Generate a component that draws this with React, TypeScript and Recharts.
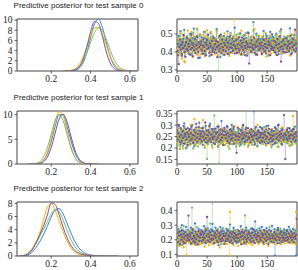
import React from "react";
import { LineChart, Line, XAxis, YAxis, ReferenceArea } from "recharts";

// series colours: chain 0..3
const COLORS = ["#3b7ed6", "#f6b008", "#79ba6a", "#7c4e8e"];
const KEYS = ["blue", "orange", "green", "purple"];

// ---- predictive posterior densities (x grid + one array per chain) ----
const dx0 = [0.26, 0.28, 0.3, 0.32, 0.34, 0.36, 0.38, 0.4, 0.42, 0.44, 0.46, 0.48, 0.5, 0.52, 0.54, 0.56, 0.58, 0.6, 0.62, 0.64];
const dBlue0 = [0, 0.01, 0.02, 0.11, 0.46, 1.45, 3.5, 6.5, 9.27, 10.17, 8.57, 5.55, 2.77, 1.06, 0.33, 0.09, 0.03, 0.01, 0, 0];
const dOrange0 = [0.01, 0.04, 0.14, 0.45, 1.18, 2.56, 4.59, 6.83, 8.41, 8.57, 7.23, 5.05, 2.92, 1.4, 0.55, 0.18, 0.05, 0.02, 0, 0];
const dGreen0 = [0.01, 0.02, 0.08, 0.28, 0.77, 1.79, 3.46, 5.59, 7.54, 8.48, 7.96, 6.23, 4.07, 2.22, 1.01, 0.38, 0.12, 0.04, 0.01, 0];
const dPurple0 = [0.01, 0.02, 0.04, 0.19, 0.72, 2.09, 4.61, 7.69, 9.73, 9.33, 6.79, 3.74, 1.56, 0.5, 0.12, 0.03, 0.01, 0, 0, 0];

const dx1 = [0.08, 0.1, 0.12, 0.14, 0.16, 0.18, 0.2, 0.22, 0.24, 0.26, 0.28, 0.3, 0.32, 0.34, 0.36, 0.38, 0.4, 0.42, 0.44];
const dBlue1 = [0, 0.01, 0.04, 0.19, 0.72, 2.06, 4.53, 7.66, 9.97, 9.97, 7.66, 4.8, 2.3, 0.85, 0.22, 0.05, 0.01, 0, 0];
const dOrange1 = [0, 0.01, 0.04, 0.19, 0.76, 2.29, 5.11, 8.52, 10.6, 9.86, 6.84, 3.54, 1.37, 0.4, 0.09, 0.01, 0, 0, 0];
const dGreen1 = [0.01, 0.03, 0.11, 0.44, 1.35, 3.25, 6.07, 8.83, 10.0, 8.83, 6.07, 3.25, 1.35, 0.44, 0.11, 0.02, 0, 0, 0];
const dPurple1 = [0, 0, 0.02, 0.1, 0.43, 1.37, 3.34, 6.28, 9.08, 10.1, 8.61, 5.65, 2.85, 1.11, 0.33, 0.07, 0.01, 0, 0];

const dx2 = [0.02, 0.04, 0.06, 0.08, 0.1, 0.12, 0.14, 0.16, 0.18, 0.2, 0.22, 0.24, 0.26, 0.28, 0.3, 0.32, 0.34, 0.36, 0.38, 0.4, 0.42, 0.44, 0.46, 0.48, 0.5, 0.52, 0.54];
const dBlue2 = [0, 0, 0.03, 0.15, 0.5, 1.2, 2.1, 3.2, 4.5, 5.9, 7.0, 7.2, 6.4, 5.0, 3.5, 2.2, 1.25, 0.65, 0.32, 0.15, 0.07, 0.03, 0.01, 0, 0, 0, 0];
const dOrange2 = [0, 0, 0.08, 0.35, 1.0, 2.0, 3.4, 5.4, 7.4, 7.95, 6.9, 5.3, 3.7, 2.3, 1.25, 0.65, 0.3, 0.15, 0.08, 0.05, 0.03, 0.02, 0.01, 0, 0, 0, 0];
const dGreen2 = [0, 0.02, 0.1, 0.35, 0.9, 1.8, 2.9, 4.0, 5.2, 6.4, 7.0, 6.7, 5.5, 3.9, 2.5, 1.4, 0.75, 0.4, 0.22, 0.12, 0.08, 0.06, 0.04, 0.02, 0.01, 0, 0];
const dPurple2 = [0, 0, 0.05, 0.25, 0.8, 1.8, 3.1, 4.5, 6.2, 8.05, 7.8, 6.3, 4.4, 2.8, 1.6, 0.85, 0.45, 0.22, 0.12, 0.07, 0.04, 0.02, 0.01, 0, 0, 0, 0];

// ---- traces, 200 draws per chain, in thousandths ----
const t0Blue = [
  462, 405, 441, 489, 397, 431, 516, 452, 378, 445, 471, 419, 523, 436, 401, 458, 484, 412, 447, 392,
  468, 427, 501, 384, 453, 439, 476, 408, 529, 442, 395, 463, 421, 487, 447, 366, 455, 432, 498, 414,
  443, 481, 402, 459, 426, 512, 437, 389, 474, 451, 416, 493, 431, 462, 377, 446, 508, 423, 457, 399,
  485, 434, 411, 467, 448, 393, 526, 429, 456, 418, 481, 440, 371, 497, 435, 463, 404, 452, 488, 421,
  449, 407, 478, 432, 514, 445, 388, 466, 425, 492, 437, 459, 402, 481, 417, 446, 535, 428, 463, 394,
  426, 472, 438, 396, 457, 503, 419, 445, 481, 408, 463, 431, 494, 382, 452, 476, 413, 439, 508, 447,
  411, 466, 429, 482, 398, 454, 437, 566, 419, 472, 446, 385, 501, 433, 458, 409, 487, 441, 424, 469,
  453, 392, 476, 438, 517, 421, 462, 405, 447, 489, 428, 456, 379, 474, 443, 511, 416, 461, 432, 485,
  437, 479, 413, 458, 396, 502, 441, 468, 424, 387, 483, 449, 416, 525, 433, 457, 401, 472, 444, 418,
  474, 426, 455, 399, 488, 437, 412, 463, 531, 429, 447, 394, 476, 452, 418, 495, 436, 461, 405, 448,
];
const t0Orange = [
  418, 456, 381, 472, 427, 395, 503, 441, 364, 459, 412, 487, 349, 342, 433, 468, 401, 447, 519, 425,
  441, 393, 478, 426, 512, 409, 457, 372, 489, 438, 401, 466, 423, 531, 385, 452, 417, 494, 436, 406,
  387, 462, 429, 498, 411, 447, 376, 483, 436, 405, 521, 419, 458, 393, 472, 431, 446, 507, 382, 453,
  476, 418, 452, 389, 467, 434, 512, 403, 449, 378, 491, 427, 461, 408, 439, 484, 396, 457, 421, 503,
  425, 468, 397, 441, 489, 413, 456, 378, 437, 502, 421, 466, 394, 478, 432, 581, 408, 452, 429, 487,
  448, 403, 479, 426, 391, 463, 437, 518, 412, 454, 386, 471, 442, 407, 496, 429, 461, 381, 447, 415,
  467, 423, 452, 398, 487, 436, 409, 475, 441, 527, 395, 458, 427, 469, 384, 446, 413, 491, 437, 402,
  412, 481, 438, 463, 395, 452, 421, 506, 374, 467, 433, 449, 402, 488, 426, 457, 391, 474, 418, 443,
  456, 397, 472, 418, 446, 385, 493, 432, 461, 409, 478, 426, 513, 401, 449, 437, 468, 392, 455, 421,
  438, 474, 405, 451, 427, 489, 413, 446, 379, 462, 431, 497, 419, 456, 403, 471, 436, 517, 398, 444,
];
const t0Green = [
  437, 482, 401, 458, 426, 513, 447, 389, 469, 432, 496, 414, 453, 378, 474, 441, 405, 487, 428, 461,
  452, 417, 495, 433, 471, 392, 458, 506, 421, 446, 483, 408, 467, 436, 524, 399, 455, 428, 489, 442,
  413, 468, 441, 397, 479, 452, 426, 511, 384, 463, 437, 492, 418, 457, 446, 403, 481, 431, 469, 425,
  488, 436, 459, 409, 475, 442, 521, 418, 454, 296, 431, 477, 402, 463, 491, 427, 448, 383, 472, 439,
  461, 404, 447, 483, 426, 458, 393, 476, 439, 506, 421, 462, 437, 415, 488, 451, 408, 473, 429, 497,
  426, 473, 438, 501, 417, 456, 443, 382, 468, 429, 487, 411, 459, 434, 478, 506, 421, 449, 392, 464,
  447, 412, 481, 436, 463, 397, 452, 519, 428, 471, 443, 406, 492, 438, 457, 416, 476, 431, 463, 447,
  403, 462, 429, 487, 446, 418, 471, 437, 499, 412, 458, 441, 383, 466, 427, 484, 451, 409, 476, 438,
  469, 433, 456, 411, 492, 447, 423, 478, 401, 462, 436, 513, 427, 451, 389, 473, 442, 418, 485, 456,
  428, 481, 442, 467, 415, 454, 398, 486, 437, 461, 409, 474, 446, 421, 493, 438, 457, 403, 468, 432,
];
const t0Purple = [
  403, 446, 381, 332, 427, 468, 412, 439, 387, 456, 421, 493, 398, 434, 372, 451, 417, 476, 408, 443,
  429, 386, 462, 414, 497, 423, 376, 448, 431, 409, 471, 392, 437, 418, 482, 401, 453, 426, 367, 441,
  458, 411, 436, 389, 473, 427, 404, 452, 381, 438, 466, 417, 497, 423, 396, 447, 432, 384, 461, 409,
  421, 478, 398, 442, 413, 462, 427, 371, 456, 434, 403, 489, 418, 445, 392, 469, 426, 411, 452, 384,
  437, 402, 466, 424, 389, 451, 413, 484, 428, 397, 446, 421, 474, 406, 438, 459, 391, 432, 417, 468,
  396, 443, 418, 481, 407, 436, 462, 389, 427, 451, 413, 472, 398, 434, 421, 457, 379, 446, 428, 505,
  335, 427, 448, 401, 466, 423, 437, 412, 479, 394, 441, 426, 458, 385, 431, 469, 409, 447, 418, 436,
  452, 387, 431, 416, 468, 403, 443, 426, 392, 475, 421, 438, 459, 404, 447, 382, 433, 416, 498, 422,
  409, 461, 424, 398, 452, 436, 382, 471, 418, 443, 405, 487, 427, 346, 456, 431, 414, 465, 399, 438,
  441, 397, 476, 419, 432, 458, 406, 444, 421, 491, 387, 453, 428, 469, 411, 437, 524, 402, 446, 418,
];

const t1Blue = [
  271, 229, 258, 296, 237, 264, 215, 283, 246, 221, 276, 252, 308, 234, 261, 199, 268, 243, 287, 226,
  249, 283, 218, 262, 239, 301, 227, 256, 273, 208, 265, 241, 289, 223, 254, 276, 232, 311, 244, 261,
  236, 274, 252, 213, 289, 245, 268, 226, 297, 241, 259, 219, 278, 249, 235, 306, 228, 263, 242, 281,
  258, 221, 284, 247, 269, 231, 262, 294, 207, 253, 276, 238, 265, 228, 318, 246, 272, 214, 257, 239,
  279, 243, 261, 226, 292, 253, 235, 274, 218, 266, 244, 301, 231, 257, 283, 222, 249, 271, 236, 263,
  224, 268, 245, 283, 237, 259, 214, 276, 251, 229, 297, 242, 265, 222, 256, 289, 233, 262, 247, 273,
  261, 236, 279, 248, 224, 271, 253, 238, 361, 226, 284, 257, 242, 268, 209, 277, 245, 232, 292, 251,
  245, 288, 227, 263, 241, 274, 256, 219, 282, 249, 231, 266, 298, 237, 254, 226, 271, 243, 259, 214,
  269, 232, 256, 291, 245, 223, 278, 251, 235, 302, 262, 228, 273, 246, 217, 284, 257, 239, 265, 246,
  238, 273, 251, 222, 287, 244, 267, 231, 259, 276, 213, 255, 282, 241, 263, 228, 294, 249, 236, 268,
];
const t1Orange = [
  256, 221, 278, 239, 263, 208, 247, 285, 231, 254, 197, 269, 238, 281, 226, 249, 272, 214, 258, 236,
  242, 267, 229, 301, 218, 253, 274, 236, 262, 327, 245, 211, 282, 233, 256, 224, 268, 241, 219, 287,
  229, 263, 246, 322, 238, 271, 209, 254, 233, 279, 248, 216, 265, 294, 227, 251, 236, 273, 243, 201,
  268, 234, 257, 219, 283, 245, 226, 264, 239, 298, 213, 251, 276, 231, 259, 242, 222, 286, 248, 232,
  237, 279, 223, 256, 244, 207, 271, 233, 262, 249, 218, 284, 239, 267, 226, 253, 296, 229, 258, 241,
  253, 226, 264, 241, 211, 278, 247, 235, 292, 221, 259, 244, 273, 218, 256, 231, 266, 249, 204, 275,
  221, 261, 238, 284, 247, 225, 269, 236, 254, 214, 277, 243, 262, 229, 301, 248, 233, 259, 227, 266,
  264, 236, 252, 217, 273, 241, 228, 288, 246, 233, 261, 219, 279, 252, 237, 264, 212, 246, 283, 231,
  232, 269, 221, 257, 238, 284, 249, 206, 271, 243, 258, 225, 266, 239, 249, 291, 228, 255, 236, 273,
  259, 241, 282, 228, 254, 219, 264, 247, 231, 276, 244, 212, 263, 341, 237, 252, 223, 269, 245, 217,
];
const t1Green = [
  247, 212, 269, 231, 258, 196, 243, 281, 224, 253, 208, 267, 236, 289, 219, 248, 264, 203, 241, 275,
  228, 262, 214, 249, 293, 231, 257, 198, 271, 238, 216, 283, 245, 226, 259, 207, 274, 235, 252, 219,
  266, 223, 251, 287, 232, 244, 201, 263, 229, 276, 152, 241, 218, 254, 297, 227, 239, 268, 211, 248,
  236, 259, 342, 217, 273, 242, 226, 251, 205, 269, 132, 234, 262, 219, 246, 281, 231, 213, 257, 243,
  214, 253, 237, 276, 222, 261, 244, 197, 268, 231, 249, 284, 216, 242, 258, 225, 272, 238, 206, 264,
  251, 219, 274, 236, 209, 257, 242, 228, 286, 221, 263, 247, 214, 271, 234, 364, 225, 258, 241, 212,
  243, 277, 226, 253, 238, 213, 266, 231, 255, 283, 219, 245, 262, 207, 249, 232, 271, 224, 258, 237,
  219, 256, 241, 267, 228, 292, 236, 253, 211, 247, 274, 226, 259, 238, 221, 266, 245, 203, 278, 232,
  262, 234, 217, 251, 243, 279, 221, 257, 236, 205, 268, 241, 229, 285, 248, 213, 263, 237, 254, 226,
  237, 266, 248, 222, 271, 233, 255, 209, 246, 278, 231, 252, 217, 264, 239, 289, 226, 251, 242, 218,
];
const t1Purple = [
  276, 238, 264, 301, 249, 225, 287, 256, 231, 272, 244, 296, 219, 263, 251, 283, 237, 268, 212, 259,
  248, 281, 233, 266, 294, 241, 257, 222, 279, 253, 236, 268, 306, 245, 227, 262, 291, 239, 274, 251,
  263, 229, 287, 248, 271, 236, 259, 312, 243, 224, 276, 255, 232, 268, 297, 241, 259, 226, 283, 247,
  239, 272, 251, 218, 285, 263, 237, 269, 246, 293, 227, 258, 281, 234, 261, 245, 276, 213, 256, 288,
  271, 242, 258, 296, 231, 266, 249, 223, 281, 257, 238, 275, 244, 263, 292, 218, 259, 236, 254, 179,
  252, 289, 236, 263, 247, 224, 278, 259, 238, 267, 301, 243, 256, 229, 282, 251, 265, 234, 287, 246,
  243, 267, 225, 258, 281, 249, 236, 273, 254, 216, 264, 291, 241, 259, 232, 276, 245, 268, 223, 257,
  266, 231, 283, 245, 262, 227, 271, 254, 239, 296, 248, 221, 265, 284, 237, 258, 243, 279, 229, 253,
  237, 274, 259, 222, 286, 241, 263, 248, 299, 233, 256, 271, 245, 262, 218, 279, 252, 236, 344, 261,
  151, 256, 241, 279, 234, 268, 252, 287, 243, 259, 226, 274, 255, 238, 283, 247, 262, 231, 269, 251,
];

const t2Blue = [
  241, 186, 273, 212, 159, 254, 227, 198, 301, 233, 172, 262, 219, 247, 181, 289, 236, 204, 268, 223,
  192, 257, 231, 283, 208, 176, 246, 264, 221, 195, 312, 238, 183, 251, 227, 169, 274, 214, 243, 199,
  266, 213, 187, 248, 232, 294, 205, 257, 176, 239, 221, 278, 194, 263, 229, 247, 189, 271, 216, 309,
  228, 179, 256, 219, 283, 241, 197, 268, 234, 162, 251, 223, 287, 206, 244, 272, 191, 236, 259, 213,
  247, 208, 275, 231, 193, 262, 218, 245, 304, 226, 184, 257, 239, 211, 281, 197, 236, 264, 222, 178,
  214, 267, 241, 186, 254, 229, 293, 203, 248, 271, 219, 174, 258, 237, 206, 284, 228, 196, 262, 245,
  259, 221, 197, 276, 238, 213, 251, 182, 269, 243, 326, 207, 233, 264, 189, 247, 221, 278, 201, 236,
  231, 288, 214, 247, 171, 262, 236, 198, 255, 279, 218, 243, 205, 267, 229, 184, 252, 238, 296, 212,
  204, 246, 273, 91, 227, 258, 193, 238, 281, 216, 249, 177, 263, 232, 209, 257, 184, 243, 271, 226,
  253, 218, 236, 267, 195, 242, 289, 211, 229, 261, 188, 247, 223, 274, 206, 239, 264, 216, 93, 251,
];
const t2Orange = [
  196, 234, 171, 218, 157, 243, 189, 207, 265, 178, 224, 148, 201, 239, 186, 213, 94, 228, 193, 256,
  181, 216, 247, 192, 169, 228, 205, 277, 174, 211, 236, 163, 198, 251, 182, 219, 193, 242, 167, 206,
  224, 177, 203, 262, 189, 214, 152, 237, 198, 183, 271, 209, 226, 164, 245, 192, 218, 176, 233, 201,
  168, 213, 192, 241, 207, 179, 256, 221, 186, 232, 198, 147, 219, 264, 188, 206, 239, 172, 214, 195,
  238, 186, 216, 171, 204, 249, 193, 91, 392, 211, 178, 226, 199, 243, 164, 218, 207, 186, 231, 259,
  193, 227, 158, 214, 236, 197, 182, 269, 209, 173, 221, 246, 188, 204, 231, 167, 252, 213, 196, 178,
  209, 174, 241, 196, 218, 163, 234, 201, 187, 258, 215, 179, 227, 194, 206, 243, 171, 219, 236, 185,
  226, 198, 183, 252, 207, 171, 224, 189, 263, 212, 195, 237, 156, 218, 203, 247, 182, 229, 197, 214,
  184, 237, 206, 169, 228, 211, 193, 254, 177, 216, 241, 199, 223, 168, 209, 232, 191, 248, 207, 175,
  215, 192, 258, 203, 179, 226, 197, 214, 236, 181, 209, 247, 176, 222, 195, 233, 208, 171, 391, 219,
];
const t2Green = [
  228, 174, 262, 207, 243, 191, 283, 218, 163, 247, 211, 296, 186, 234, 252, 179, 223, 268, 199, 241,
  205, 253, 188, 236, 271, 421, 217, 197, 258, 229, 167, 244, 213, 287, 192, 226, 261, 184, 239, 209,
  256, 198, 231, 176, 249, 218, 207, 279, 193, 236, 264, 182, 221, 245, 203, 311, 188, 233, 257, 455,
  219, 246, 184, 231, 263, 202, 238, 196, 274, 213, 187, 249, 226, 168, 257, 234, 208, 282, 194, 241,
  243, 187, 226, 254, 209, 272, 198, 235, 181, 261, 223, 204, 249, 178, 237, 266, 192, 219, 251, 212,
  199, 238, 263, 214, 186, 247, 229, 171, 256, 208, 241, 219, 193, 367, 226, 178, 264, 235, 203, 249,
  264, 209, 192, 243, 226, 281, 205, 238, 187, 254, 217, 232, 199, 271, 184, 247, 223, 261, 196, 235,
  216, 251, 229, 189, 268, 211, 246, 196, 233, 175, 259, 222, 241, 207, 287, 193, 236, 254, 214, 181,
  238, 196, 257, 223, 204, 242, 267, 185, 229, 251, 213, 196, 276, 231, 189, 248, 219, 263, 207, 241,
  224, 263, 201, 236, 257, 188, 244, 211, 272, 229, 194, 251, 217, 239, 203, 266, 183, 231, 254, 212,
];
const t2Purple = [
  213, 247, 186, 229, 258, 172, 236, 201, 264, 219, 187, 241, 208, 176, 253, 226, 194, 233, 211, 366,
  197, 238, 221, 173, 249, 206, 271, 189, 228, 214, 181, 256, 203, 237, 168, 224, 259, 192, 217, 243,
  234, 189, 257, 216, 198, 243, 211, 182, 268, 227, 357, 196, 239, 218, 185, 252, 206, 231, 197, 262,
  206, 229, 177, 248, 214, 236, 193, 261, 183, 221, 247, 204, 232, 189, 257, 213, 198, 241, 226, 172,
  225, 191, 244, 208, 263, 202, 229, 186, 251, 217, 196, 238, 175, 254, 221, 207, 246, 189, 233, 214,
  188, 237, 211, 259, 196, 242, 218, 169, 256, 227, 203, 248, 181, 219, 264, 205, 187, 236, 213, 252,
  241, 199, 226, 184, 247, 212, 273, 193, 231, 178, 258, 215, 236, 201, 224, 249, 186, 227, 209, 263,
  196, 244, 217, 232, 181, 266, 208, 239, 192, 221, 254, 203, 171, 238, 216, 207, 261, 188, 229, 211,
  228, 183, 251, 209, 239, 197, 224, 176, 268, 219, 198, 241, 212, 253, 187, 231, 216, 202, 247, 193,
  211, 236, 194, 262, 218, 203, 243, 181, 227, 214, 256, 199, 238, 217, 183, 246, 222, 206, 233, 344,
];

const titles = [
  "Predictive posterior for test sample 0",
  "Predictive posterior for test sample 1",
  "Predictive posterior for test sample 2",
];
const densityTicks = [[0, 2, 4, 6, 8, 10], [0, 5, 10], [0, 2, 4, 6, 8]];
const densityTop = [10.2, 10.74, 8.2];
const traceTicks = [[0.3, 0.4, 0.5], [0.15, 0.2, 0.25, 0.3, 0.35], [0.1, 0.2, 0.3, 0.4]];
const traceDomain = [[0.294, 0.583], [0.13, 0.362], [0.089, 0.459]];
const densityXTicks = [0.2, 0.4, 0.6];
const traceXTicks = [0, 50, 100, 150];

const toDensity = (xs: number[], b: number[], o: number[], g: number[], p: number[]) =>
  xs.map((x, i) => ({ x, blue: b[i], orange: o[i], green: g[i], purple: p[i] }));
const toTrace = (b: number[], o: number[], g: number[], p: number[]) =>
  b.map((v, i) => ({ i, blue: v / 1000, orange: o[i] / 1000, green: g[i] / 1000, purple: p[i] / 1000 }));

const densityData = [
  toDensity(dx0, dBlue0, dOrange0, dGreen0, dPurple0),
  toDensity(dx1, dBlue1, dOrange1, dGreen1, dPurple1),
  toDensity(dx2, dBlue2, dOrange2, dGreen2, dPurple2),
];
const traceData = [
  toTrace(t0Blue, t0Orange, t0Green, t0Purple),
  toTrace(t1Blue, t1Orange, t1Green, t1Purple),
  toTrace(t2Blue, t2Orange, t2Green, t2Purple),
];

const boxTop = [19, 111, 202];
const boxH = [52, 53, 54];
const X_DOM: [number, number] = [0.026, 0.641];
const T_DOM: [number, number] = [0, 199.5];

const tickStyle = { fontSize: 9.5, fill: "#222", fontFamily: "'Liberation Serif', serif" };
const tickLine = { stroke: "#333", strokeWidth: 0.8 };
const frame = "#444";

const App: React.FC = () => {
  return (
    <div style={{ position: "absolute", left: 0, top: 0, width: 298, height: 270, background: "#fff", overflow: "hidden" }}>
      {titles.map((t, r) => (
        <div
          key={"t" + r}
          style={{
            position: "absolute",
            left: 0,
            width: 157,
            top: boxTop[r] - 19,
            height: 12,
            lineHeight: "12px",
            textAlign: "center",
            fontSize: 8,
            fontFamily: "'Liberation Sans', Arial, sans-serif",
            color: "#222",
            whiteSpace: "nowrap",
          }}
        >
          {t}
        </div>
      ))}

      {densityData.map((data, r) => (
        <div key={"d" + r} style={{ position: "absolute", left: 0, top: boxTop[r] - 5 }}>
          <LineChart width={150} height={5 + boxH[r] + 20} data={data} margin={{ top: 5, right: 12, bottom: 0, left: 0 }}>
            <XAxis
              dataKey="x"
              type="number"
              domain={X_DOM}
              allowDataOverflow
              ticks={densityXTicks}
              interval={0}
              tickFormatter={(v: number) => v.toFixed(1)}
              height={20}
              axisLine={false}
              tickLine={tickLine}
              tickSize={2.5}
              tick={tickStyle}
            />
            <YAxis
              type="number"
              domain={[0, densityTop[r]]}
              allowDataOverflow
              ticks={densityTicks[r]}
              interval={0}
              width={17}
              axisLine={false}
              tickLine={tickLine}
              tickSize={2.5}
              tick={tickStyle}
            />
            {KEYS.map((k, i) => (
              <Line
                key={k}
                type="monotone"
                dataKey={k}
                stroke={COLORS[i]}
                strokeWidth={1}
                dot={false}
                activeDot={false}
                isAnimationActive={false}
              />
            ))}
            <ReferenceArea
              x1={X_DOM[0]}
              x2={X_DOM[1]}
              y1={0}
              y2={densityTop[r]}
              fill="none"
              stroke={frame}
              strokeWidth={1}
              ifOverflow="visible"
            />
          </LineChart>
        </div>
      ))}

      {traceData.map((data, r) => (
        <div key={"c" + r} style={{ position: "absolute", left: 150, top: boxTop[r] - 5 }}>
          <LineChart width={148} height={5 + boxH[r] + 20} data={data} margin={{ top: 5, right: 1, bottom: 0, left: 0 }}>
            <XAxis
              dataKey="i"
              type="number"
              domain={T_DOM}
              allowDataOverflow
              ticks={traceXTicks}
              interval={0}
              height={20}
              axisLine={false}
              tickLine={tickLine}
              tickSize={2.5}
              tick={tickStyle}
            />
            <YAxis
              type="number"
              domain={traceDomain[r]}
              allowDataOverflow
              ticks={traceTicks[r]}
              interval={0}
              tickFormatter={(v: number) => String(v)}
              width={27}
              axisLine={false}
              tickLine={tickLine}
              tickSize={2.5}
              tick={tickStyle}
            />
            {KEYS.map((k, i) => (
              <Line
                key={k}
                type="linear"
                dataKey={k}
                stroke={COLORS[i]}
                strokeOpacity={0.3}
                strokeWidth={0.8}
                dot={{ r: 1.15, fill: COLORS[i], stroke: "none", fillOpacity: 1 }}
                activeDot={false}
                isAnimationActive={false}
              />
            ))}
            <ReferenceArea
              x1={T_DOM[0]}
              x2={T_DOM[1]}
              y1={traceDomain[r][0]}
              y2={traceDomain[r][1]}
              fill="none"
              stroke={frame}
              strokeWidth={1}
              ifOverflow="visible"
            />
          </LineChart>
        </div>
      ))}
    </div>
  );
};

export default App;
